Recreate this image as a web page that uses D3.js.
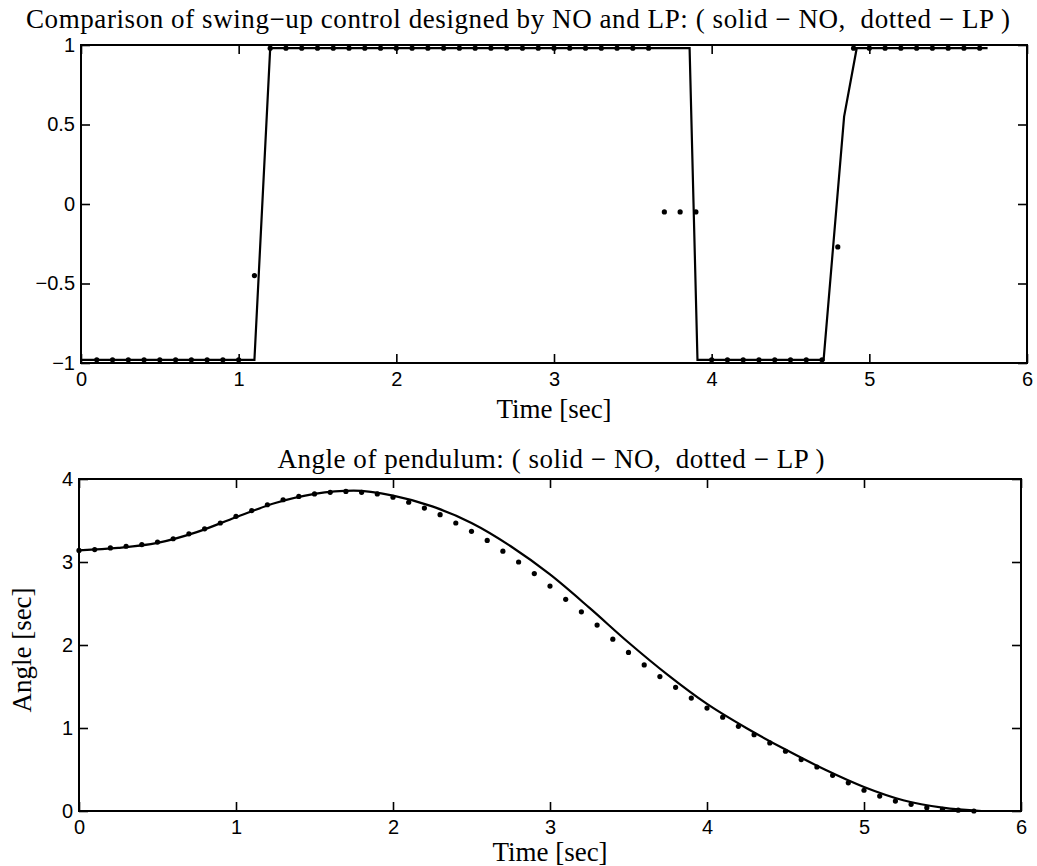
<!DOCTYPE html>
<meta charset="utf-8">
<style>
  body { margin: 0; background: #fff; }
  .tick text { font-family: "Liberation Sans", Arial, sans-serif; font-size: 20px; fill: #000; }
  .tick line { stroke: #000; stroke-width: 1.6; }
  .domain { display: none; }
  .lbl { font-family: "Liberation Serif", "Times New Roman", serif; font-size: 27px; fill: #000; }
</style>
<body>
<script src="https://d3js.org/d3.v7.min.js"></script>
<script>
var width = 1037, height = 866;

// control signal, NO (solid)
var ctrlT  = [0, 1.10, 1.20, 3.86, 3.91, 4.71, 4.84, 4.92, 5.75];
var ctrlNO = [-0.98, -0.98, 0.98, 0.98, -0.98, -0.98, 0.55, 0.98, 0.98];

// control signal, LP (dots, every 0.1 s from 0.1 to 5.7)
var ctrlLP = [
  -0.98, -0.98, -0.98, -0.98, -0.98, -0.98, -0.98, -0.98, -0.98, -0.98, // 0.1 - 1.0
  -0.45, 0.98, 0.98, 0.98, 0.98, 0.98, 0.98, 0.98, 0.98, 0.98,          // 1.1 - 2.0
  0.98, 0.98, 0.98, 0.98, 0.98, 0.98, 0.98, 0.98, 0.98, 0.98,           // 2.1 - 3.0
  0.98, 0.98, 0.98, 0.98, 0.98, 0.98, -0.05, -0.05, -0.05, -0.98,       // 3.1 - 4.0
  -0.98, -0.98, -0.98, -0.98, -0.98, -0.98, -0.98, -0.27, 0.98, 0.98,   // 4.1 - 5.0
  0.98, 0.98, 0.98, 0.98, 0.98, 0.98, 0.98                              // 5.1 - 5.7
];

// pendulum angle, NO (solid)
var angT  = [0, 0.25, 0.5, 0.75, 1.0, 1.25, 1.5, 1.75, 2.0, 2.25, 2.5, 2.75, 3.0, 3.25, 3.5, 3.75, 4.0, 4.25, 4.5, 4.75, 5.0, 5.25, 5.5, 5.75];
var angNO = [3.14, 3.17, 3.23, 3.36, 3.54, 3.71, 3.82, 3.86, 3.80, 3.67, 3.47, 3.19, 2.85, 2.45, 2.03, 1.64, 1.29, 1.00, 0.74, 0.50, 0.29, 0.13, 0.04, 0.0];

// pendulum angle, LP (dots, every 0.1 s from 0 to 5.7)
var angLP = [
  3.14, 3.15, 3.17, 3.19, 3.21, 3.24, 3.28, 3.34, 3.40, 3.47,
  3.55, 3.62, 3.69, 3.75, 3.79, 3.82, 3.84, 3.85, 3.84, 3.82,
  3.78, 3.72, 3.65, 3.57, 3.47, 3.37, 3.26, 3.13, 3.00, 2.86,
  2.71, 2.55, 2.40, 2.24, 2.07, 1.91, 1.76, 1.62, 1.49, 1.36,
  1.24, 1.13, 1.02, 0.92, 0.82, 0.72, 0.62, 0.53, 0.43, 0.34,
  0.25, 0.18, 0.12, 0.08, 0.04, 0.02, 0.01, 0.00
];

var xTicks = [0, 1, 2, 3, 4, 5, 6];
var topYTicks = [-1, -0.5, 0, 0.5, 1];
var botYTicks = [0, 1, 2, 3, 4];

var svg = d3.select("body").append("svg")
  .attr("width", width)
  .attr("height", height);

var fmt = d3.format("");

function panel(box, yDomain, yTicks) {
  var x = d3.scaleLinear().domain([0, 6]).range([box.x0, box.x1]);
  var y = d3.scaleLinear().domain(yDomain).range([box.y1, box.y0]);

  svg.append("rect")
    .attr("x", box.x0).attr("y", box.y0)
    .attr("width", box.x1 - box.x0).attr("height", box.y1 - box.y0)
    .attr("fill", "none").attr("stroke", "#000").attr("stroke-width", 2);

  svg.append("g")
    .attr("transform", "translate(0," + box.y1 + ")")
    .call(d3.axisBottom(x).tickValues(xTicks).tickSize(-9).tickPadding(9).tickFormat(fmt));
  svg.append("g")
    .attr("transform", "translate(0," + box.y0 + ")")
    .call(d3.axisTop(x).tickValues(xTicks).tickSize(-9).tickFormat(""));
  svg.append("g")
    .attr("transform", "translate(" + box.x0 + ",0)")
    .call(d3.axisLeft(y).tickValues(yTicks).tickSize(-9).tickPadding(6).tickFormat(fmt));
  svg.append("g")
    .attr("transform", "translate(" + box.x1 + ",0)")
    .call(d3.axisRight(y).tickValues(yTicks).tickSize(-9).tickFormat(""));

  return {x: x, y: y};
}

// ---- top panel: control ----
var ctrlP = panel({x0: 81, x1: 1027, y0: 45, y1: 363}, [-1, 1], topYTicks);

svg.append("path")
  .datum(ctrlT.map((t, i) => [t, ctrlNO[i]]))
  .attr("fill", "none")
  .attr("stroke", "#000")
  .attr("stroke-width", 2.2)
  .attr("d", d3.line().x(d => ctrlP.x(d[0])).y(d => ctrlP.y(d[1])));

svg.append("g")
  .selectAll("circle")
  .data(ctrlLP)
  .enter().append("circle")
  .attr("cx", (d, i) => ctrlP.x(0.1 * (i + 1)))
  .attr("cy", d => ctrlP.y(d))
  .attr("r", 2.6)
  .attr("fill", "#000");

svg.append("text").attr("class", "lbl")
  .attr("x", 518).attr("y", 28)
  .attr("text-anchor", "middle")
  .attr("textLength", 984)
  .style("white-space", "pre")
  .text("Comparison of swing\u2212up control designed by NO and LP: ( solid \u2212 NO,  dotted \u2212 LP )");

svg.append("text").attr("class", "lbl")
  .attr("x", 554).attr("y", 418)
  .attr("text-anchor", "middle")
  .text("Time [sec]");

// ---- bottom panel: angle ----
var angP = panel({x0: 79, x1: 1021, y0: 479, y1: 811}, [0, 4], botYTicks);

svg.append("path")
  .datum(angT.map((t, i) => [t, angNO[i]]))
  .attr("fill", "none")
  .attr("stroke", "#000")
  .attr("stroke-width", 2.2)
  .attr("d", d3.line().curve(d3.curveMonotoneX).x(d => angP.x(d[0])).y(d => angP.y(d[1])));

svg.append("g")
  .selectAll("circle")
  .data(angLP)
  .enter().append("circle")
  .attr("cx", (d, i) => angP.x(0.1 * i))
  .attr("cy", d => angP.y(d))
  .attr("r", 2.6)
  .attr("fill", "#000");

svg.append("text").attr("class", "lbl")
  .attr("x", 551).attr("y", 468)
  .attr("text-anchor", "middle")
  .attr("textLength", 547)
  .style("white-space", "pre")
  .text("Angle of pendulum: ( solid \u2212 NO,  dotted \u2212 LP )");

svg.append("text").attr("class", "lbl")
  .attr("x", 550).attr("y", 861)
  .attr("text-anchor", "middle")
  .text("Time [sec]");

svg.append("text").attr("class", "lbl")
  .attr("transform", "translate(31,650) rotate(-90)")
  .attr("text-anchor", "middle")
  .text("Angle [sec]");
</script>
</body>
</html>
